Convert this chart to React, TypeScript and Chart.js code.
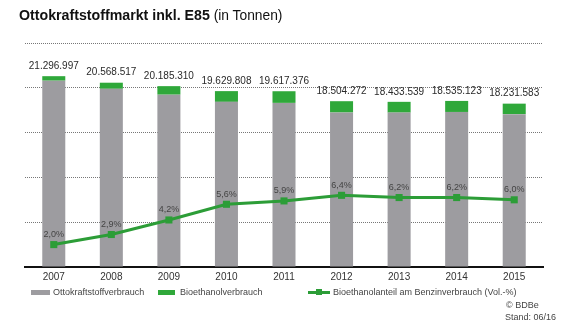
import React, { useEffect, useRef } from "react";
import { Chart, registerables } from "chart.js";

Chart.register(...registerables);

const years = ["2007", "2008", "2009", "2010", "2011", "2012", "2013", "2014", "2015"];
const totalMarket = [21296997, 20568517, 20185310, 19629808, 19617376, 18504272, 18433539, 18535123, 18231583];
const bioethanol = [500000, 680000, 950000, 1200000, 1300000, 1260000, 1200000, 1230000, 1170000];
const bioShare = [2.0, 2.9, 4.2, 5.6, 5.9, 6.4, 6.2, 6.2, 6.0];
const gasoline = totalMarket.map((t, i) => t - bioethanol[i]);

const GREY = "#9d9ca0";
const GREEN = "#2fa83a";
const LINE_GREEN = "#2c9d37";
const FONT = "'Liberation Sans', Arial, sans-serif";

const fmtTotal = (v: number) => String(v).replace(/\B(?=(\d{3})+(?!\d))/g, ".");
const fmtPct = (v: number) => v.toFixed(1).replace(".", ",") + "%";

const labelPlugin = {
  id: "valueLabels",
  afterDatasetsDraw(chart: any) {
    const ctx = chart.ctx;
    ctx.save();
    ctx.textAlign = "center";
    ctx.textBaseline = "middle";
    const barMeta = chart.getDatasetMeta(1);
    ctx.fillStyle = "#2a2a2a";
    ctx.font = `10px ${FONT}`;
    barMeta.data.forEach((el: any, i: number) => {
      ctx.fillText(fmtTotal(totalMarket[i]), el.x, el.y - 10);
    });
    const lineMeta = chart.getDatasetMeta(2);
    ctx.fillStyle = "#444";
    ctx.font = `9px ${FONT}`;
    lineMeta.data.forEach((el: any, i: number) => {
      ctx.fillText(fmtPct(bioShare[i]), el.x, el.y - 10);
    });
    ctx.restore();
  },
};

export default function App() {
  const ref = useRef<HTMLCanvasElement>(null);
  useEffect(() => {
    if (!ref.current) return;
    const chart = new Chart(ref.current, {
      type: "bar",
      data: {
        labels: years,
        datasets: [
          {
            type: "bar",
            label: "Ottokraftstoffverbrauch",
            data: gasoline,
            backgroundColor: GREY,
            stack: "s",
            order: 2,
            barPercentage: 0.8,
            categoryPercentage: 0.5,
          },
          {
            type: "bar",
            label: "Bioethanolverbrauch",
            data: bioethanol,
            backgroundColor: GREEN,
            stack: "s",
            order: 2,
            barPercentage: 0.8,
            categoryPercentage: 0.5,
          },
          {
            type: "line",
            label: "Bioethanolanteil am Benzinverbrauch (Vol.-%)",
            data: bioShare,
            yAxisID: "y1",
            borderColor: LINE_GREEN,
            backgroundColor: LINE_GREEN,
            borderWidth: 3,
            pointStyle: "rect",
            pointRadius: 5,
            pointBorderWidth: 0,
            order: 0,
            tension: 0,
          } as any,
        ],
      },
      options: {
        animation: false,
        responsive: false,
        layout: { padding: { left: 25, right: 37, top: 43, bottom: 36 } },
        plugins: { legend: { display: false }, tooltip: { enabled: false } },
        scales: {
          x: {
            stacked: true,
            grid: { display: false, drawTicks: false },
            border: { display: true, color: "#111", width: 2 },
            ticks: { color: "#333", font: { size: 10, family: FONT }, padding: 4 },
            afterFit: (s: any) => {
              s.height = 20;
            },
          },
          y: {
            stacked: true,
            min: 0,
            max: 25000000,
            ticks: { display: false, stepSize: 5000000 },
            grid: {
              drawTicks: false,
              color: (c: any) => (c.tick && c.tick.value === 0 ? "rgba(0,0,0,0)" : "#777"),
              lineWidth: 1,
            },
            border: { display: false, dash: [1, 1] },
            afterFit: (s: any) => {
              s.width = 0;
            },
          },
          y1: {
            display: false,
            min: 0,
            max: 20,
          },
        },
      },
      plugins: [labelPlugin],
    });
    return () => chart.destroy();
  }, []);

  const legendText: React.CSSProperties = {
    position: "absolute",
    fontSize: 9,
    color: "#444",
    whiteSpace: "nowrap",
    lineHeight: "10px",
  };

  return (
    <div
      style={{
        position: "fixed",
        left: 0,
        top: 0,
        width: 580,
        height: 323,
        background: "#fff",
        fontFamily: FONT,
        overflow: "hidden",
      }}
    >
      <canvas ref={ref} width={580} height={323} style={{ position: "absolute", left: 0, top: 0 }} />
      <div
        style={{
          position: "absolute",
          left: 19,
          top: 7,
          fontSize: 14,
          color: "#111",
          whiteSpace: "nowrap",
          lineHeight: "16px",
        }}
      >
        <span style={{ fontWeight: "bold", fontSize: 14.2 }}>Ottokraftstoffmarkt inkl. E85</span>{" "}
        <span style={{ fontSize: 13.8 }}>(in Tonnen)</span>
      </div>
      <div style={{ position: "absolute", left: 31, top: 290, width: 19, height: 5, background: GREY }} />
      <div style={{ ...legendText, left: 53, top: 287 }}>Ottokraftstoffverbrauch</div>
      <div style={{ position: "absolute", left: 158, top: 290, width: 17, height: 5, background: GREEN }} />
      <div style={{ ...legendText, left: 180, top: 287 }}>Bioethanolverbrauch</div>
      <div style={{ position: "absolute", left: 308, top: 291, width: 22, height: 3, background: LINE_GREEN }} />
      <div style={{ position: "absolute", left: 316, top: 289, width: 6, height: 6, background: LINE_GREEN }} />
      <div style={{ ...legendText, left: 333, top: 287 }}>Bioethanolanteil am Benzinverbrauch (Vol.-%)</div>
      <div style={{ ...legendText, left: 506, top: 300 }}>© BDBe</div>
      <div style={{ ...legendText, left: 505, top: 312 }}>Stand: 06/16</div>
    </div>
  );
}
